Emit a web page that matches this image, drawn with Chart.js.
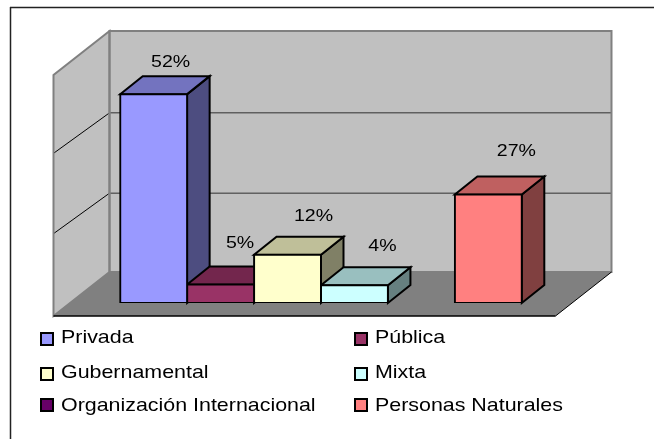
<!DOCTYPE html>
<html><head><meta charset="utf-8">
<style>html,body{margin:0;padding:0;background:#fff}canvas{display:block}</style>
<script src="https://cdn.jsdelivr.net/npm/chart.js@4/dist/chart.umd.min.js"></script>
</head><body>
<div style="width:654px;height:439px"><canvas id="c" width="654" height="439"></canvas></div>
<script>
const categories = ["Sector"];
const seriesNames = ["Privada","Pública","Gubernamental","Mixta","Organización Internacional","Personas Naturales"];
const seriesValues = [52, 4.6, 12, 4.4, 0, 27];
const seriesColors = ["#9999FF","#993366","#FFFFCC","#CCFFFF","#660066","#FF8080"];
const tickValues = [0, 20, 40, 60];
const labelNudge = [[17,-27],[19.5,-37],[26,-34],[28,-34],[0,0],[28,-39]];

const WALL = {dx:56, dy:-44}, FRONT = {dx:16.5, dy:13}, BAR = {dx:22.5, dy:-18};
const GRID_SHIFT = 1.5, GRID_DROP = 40.5;

function shade(hex, f){
  const n = parseInt(hex.slice(1),16);
  return `rgb(${Math.round((n>>16&255)*f)},${Math.round((n>>8&255)*f)},${Math.round((n&255)*f)})`;
}
function poly(ctx, pts, fill, stroke, lw){
  ctx.beginPath();
  pts.forEach((p,i)=> i ? ctx.lineTo(p[0],p[1]) : ctx.moveTo(p[0],p[1]));
  ctx.closePath();
  if(fill){ctx.fillStyle=fill;ctx.fill();}
  if(stroke){ctx.strokeStyle=stroke;ctx.lineWidth=lw;ctx.lineJoin='miter';ctx.stroke();}
}
function line(ctx,a,b,color,lw){
  ctx.beginPath();ctx.moveTo(a[0],a[1]);ctx.lineTo(b[0],b[1]);
  ctx.strokeStyle=color;ctx.lineWidth=lw;ctx.stroke();
}
function stretchedText(ctx,text,x,y,px,stretch,align){
  ctx.save();
  ctx.font=`${px}px "Liberation Sans", Arial, sans-serif`;
  ctx.fillStyle='#000';ctx.textBaseline='alphabetic';ctx.textAlign=align;
  ctx.translate(x,y);ctx.scale(stretch,1);
  ctx.fillText(text,0,0);
  ctx.restore();
}

const box3d = {
  id:'box3d',
  beforeDraw(chart){
    const ctx=chart.ctx;
    ctx.save();
    ctx.fillStyle='#fff';ctx.fillRect(0,0,chart.width,chart.height);
    line(ctx,[10.5,7],[10.5,chart.height],'#222',1.5);
    line(ctx,[10,7.5],[chart.width,7.5],'#222',1.5);
    ctx.restore();
  },
  beforeDatasetsDraw(chart){
    const ctx=chart.ctx, a=chart.chartArea, y=chart.scales.y;
    const fl=a.left-FRONT.dx, fr=a.right-FRONT.dx, fb=a.bottom+FRONT.dy;
    const bl=fl+WALL.dx, br=fr+WALL.dx, bb=fb+WALL.dy;
    const topOff=y.getPixelForValue(tickValues[tickValues.length-1])-a.bottom;
    const bt=bb+topOff, ft=fb+topOff;
    ctx.save();
    poly(ctx,[[fl,fb],[fr,fb],[br,bb],[bl,bb]],'#808080');
    poly(ctx,[[fl,fb],[bl,bb],[bl,bt],[fl,ft]],'#C0C0C0');
    poly(ctx,[[bl,bb],[br,bb],[br,bt],[bl,bt]],'#C0C0C0');
    tickValues.slice(1,-1).forEach(v=>{
      const gy=bb+y.getPixelForValue(v)-a.bottom+GRID_SHIFT;
      line(ctx,[bl,gy],[br,gy],'#303030',1);
      line(ctx,[fl,gy+GRID_DROP],[bl,gy],'#000',1);
    });
    poly(ctx,[[bl,bb],[br,bb],[br,bt],[bl,bt]],null,'#808080',2);
    poly(ctx,[[fl,fb],[bl,bb],[bl,bt],[fl,ft]],null,'#808080',2);
    line(ctx,[fl,fb],[fr,fb],'#000',1.5);
    line(ctx,[fr,fb],[br,bb],'#000',1);
    chart.data.datasets.forEach((ds,i)=>{
      const el=chart.getDatasetMeta(i).data[0];
      if(!ds.data[0]) return;
      const l=el.x-el.width/2, r=el.x+el.width/2, t=el.y, b=el.base;
      poly(ctx,[[r,t],[r+BAR.dx,t+BAR.dy],[r+BAR.dx,b+BAR.dy],[r,b]],shade(seriesColors[i],0.5),'#000',2);
      poly(ctx,[[l,t],[r,t],[r+BAR.dx,t+BAR.dy],[l+BAR.dx,t+BAR.dy]],shade(seriesColors[i],0.75),'#000',2);
    });
    ctx.restore();
  },
  afterDatasetsDraw(chart){
    const ctx=chart.ctx;
    chart.data.datasets.forEach((ds,i)=>{
      if(!ds.data[0]) return;
      const el=chart.getDatasetMeta(i).data[0];
      stretchedText(ctx,Math.round(ds.data[0])+'%',el.x+labelNudge[i][0],el.y+labelNudge[i][1],17,1.15,'center');
    });
    // legend, two columns, three rows
    const colX=[41,355], rowY=[333,368,399], textBase=[343,378,411];
    chart.data.datasets.forEach((ds,i)=>{
      const col=i%2,row=Math.floor(i/2);
      ctx.save();
      ctx.fillStyle=ds.backgroundColor;ctx.strokeStyle='#000';ctx.lineWidth=2;
      ctx.fillRect(colX[col],rowY[row],12,12);
      ctx.strokeRect(colX[col],rowY[row],12,12);
      ctx.restore();
      stretchedText(ctx,ds.label,colX[col]+20,textBase[row],18.5,1.157,'left');
    });
  }
};

new Chart(document.getElementById('c'),{
  type:'bar',
  data:{
    labels:categories,
    datasets:seriesNames.map((n,i)=>({
      label:n,data:[seriesValues[i]],backgroundColor:seriesColors[i],
      borderColor:'#000',borderWidth:2,borderSkipped:false,inflateAmount:1,
      categoryPercentage:0.8,barPercentage:1
    }))
  },
  options:{
    responsive:false,animation:false,
    layout:{padding:{left:70,right:82,top:62,bottom:136}},
    plugins:{legend:{display:false},tooltip:{enabled:false},title:{display:false}},
    scales:{
      x:{display:false,grid:{display:false}},
      y:{display:false,min:0,max:60,ticks:{stepSize:20},grid:{display:false}}
    }
  },
  plugins:[box3d]
});
</script>
</body></html>
